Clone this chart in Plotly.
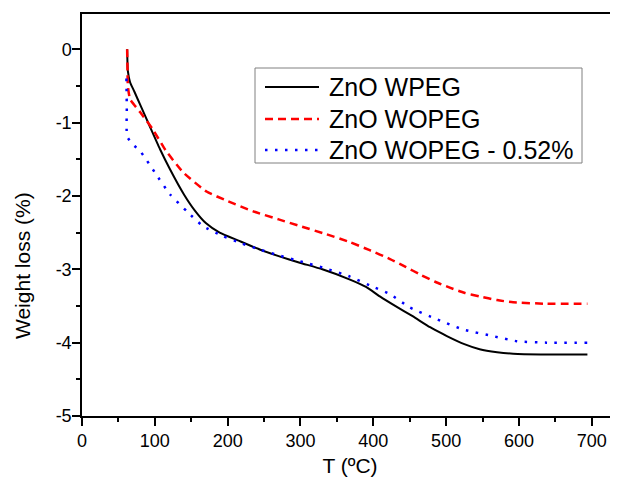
import plotly.graph_objects as go

# ---- data ----
T_wpeg = [62, 63, 66, 72, 80, 93, 107, 121, 140, 155, 170, 189, 215, 244, 270, 299, 330,
          368, 390, 409, 430, 454, 478, 501, 525, 546, 570, 592, 630, 660, 694]
W_wpeg = [0.0, -0.3, -0.45, -0.58, -0.76, -1.05, -1.36, -1.64, -1.98, -2.20, -2.37, -2.50,
          -2.61, -2.73, -2.82, -2.91, -3.00, -3.14, -3.24, -3.37, -3.50, -3.64, -3.79, -3.91,
          -4.02, -4.09, -4.13, -4.15, -4.16, -4.16, -4.16]

T_wopeg = [62, 62.5, 63, 66, 80, 97, 115, 139, 171, 200, 235, 270, 299, 335, 368, 395,
           423, 445, 464, 485, 505, 525, 546, 570, 592, 638, 694]
W_wopeg = [0.0, -0.3, -0.5, -0.68, -0.86, -1.09, -1.38, -1.68, -1.94, -2.07, -2.21, -2.32,
           -2.41, -2.52, -2.63, -2.74, -2.86, -2.97, -3.07, -3.17, -3.25, -3.32, -3.37,
           -3.42, -3.45, -3.47, -3.47]

T_052 = [61, 61.5, 62, 70, 80, 100, 121, 144, 166, 194, 220, 244, 270, 299, 335, 368,
         395, 423, 450, 487, 523, 564, 597, 638, 694]
W_052 = [-0.4, -0.8, -1.19, -1.30, -1.39, -1.68, -1.98, -2.21, -2.41, -2.55, -2.65, -2.73,
         -2.81, -2.89, -2.99, -3.10, -3.22, -3.34, -3.52, -3.68, -3.82, -3.91, -3.98,
         -4.00, -4.00]

names = ["ZnO WPEG", "ZnO WOPEG", "ZnO WOPEG - 0.52%"]
y_tickvals = [-5, -4, -3, -2, -1, 0]
y_ticktext = ["-5", "-4", "-3", "-2", "-1", "0"]

FONT = "Liberation Sans, Arial, sans-serif"
colors = ["black", "#ff0000", "#0000ff"]
widths = [2, 2.5, 2.5]
dashes = ["solid", "8px,5px", "2.5px,7.5px"]

fig = go.Figure()
for T, W, nm, c, w, d in zip([T_wpeg, T_wopeg, T_052], [W_wpeg, W_wopeg, W_052],
                             names, colors, widths, dashes):
    fig.add_trace(go.Scatter(x=T, y=W, mode="lines", name=nm, showlegend=False,
                             line=dict(color=c, width=w, dash=d,
                                       shape="spline", smoothing=0.5)))

axis_common = dict(
    showline=True, linecolor="black", linewidth=1.5,
    ticks="outside", ticklen=8, tickwidth=1.5, tickcolor="black",
    showgrid=False, zeroline=False,
    tickfont=dict(family=FONT, size=18, color="black"),
)

fig.update_xaxes(
    range=[0, 736], dtick=100, tick0=0, mirror=True,
    title=dict(text="T (ºC)", font=dict(family=FONT, size=21, color="black"), standoff=9),
    minor=dict(ticks="outside", ticklen=4, tickwidth=1.5, tickcolor="black", dtick=50, tick0=0),
    **axis_common,
)
fig.update_yaxes(
    range=[-5, 0.48], tickmode="array", tickvals=y_tickvals, ticktext=y_ticktext,
    ticklabelstandoff=-3,
    minor=dict(ticks="outside", ticklen=4, tickwidth=1.5, tickcolor="black",
               tickmode="linear", dtick=0.5, tick0=0),
    **axis_common,
)

# ---- page-pixel helpers (plot area: x 82..618, y 14..416 in page pixels) ----
def px_x(p):
    return (p - 82) / 536.0

def px_y(p):
    return (416 - p) / 402.0

# y-axis title
fig.add_annotation(text="Weight loss (%)", xref="paper", yref="paper",
                   x=px_x(22), y=px_y(266), textangle=-90, showarrow=False,
                   xanchor="center", yanchor="middle",
                   font=dict(family=FONT, size=21, color="black"))

# legend box
fig.add_shape(type="rect", xref="paper", yref="paper",
              x0=px_x(255), x1=px_x(582), y0=px_y(68), y1=px_y(163),
              line=dict(color="#808080", width=1), fillcolor="white", layer="above")
row_y = [87, 119, 150]
for ry, nm, c, w, d in zip(row_y, names, colors, widths, dashes):
    fig.add_shape(type="line", xref="paper", yref="paper",
                  x0=px_x(265), x1=px_x(319), y0=px_y(ry), y1=px_y(ry),
                  line=dict(color=c, width=w, dash=d), layer="above")
    fig.add_annotation(text=nm, xref="paper", yref="paper",
                       x=px_x(327), y=px_y(ry), showarrow=False,
                       xanchor="left", yanchor="middle",
                       font=dict(family=FONT, size=25, color="black"))

# the page body adds an 8 px offset; the figure is sized to fill the rest of the window
W_FIG, H_FIG = 610, 469
fig.update_layout(
    width=W_FIG, height=H_FIG,
    margin=dict(l=74, r=0, t=6, b=61, autoexpand=False),
    paper_bgcolor="white", plot_bgcolor="white",
    showlegend=False,
)

fig.write_html("out.html")
